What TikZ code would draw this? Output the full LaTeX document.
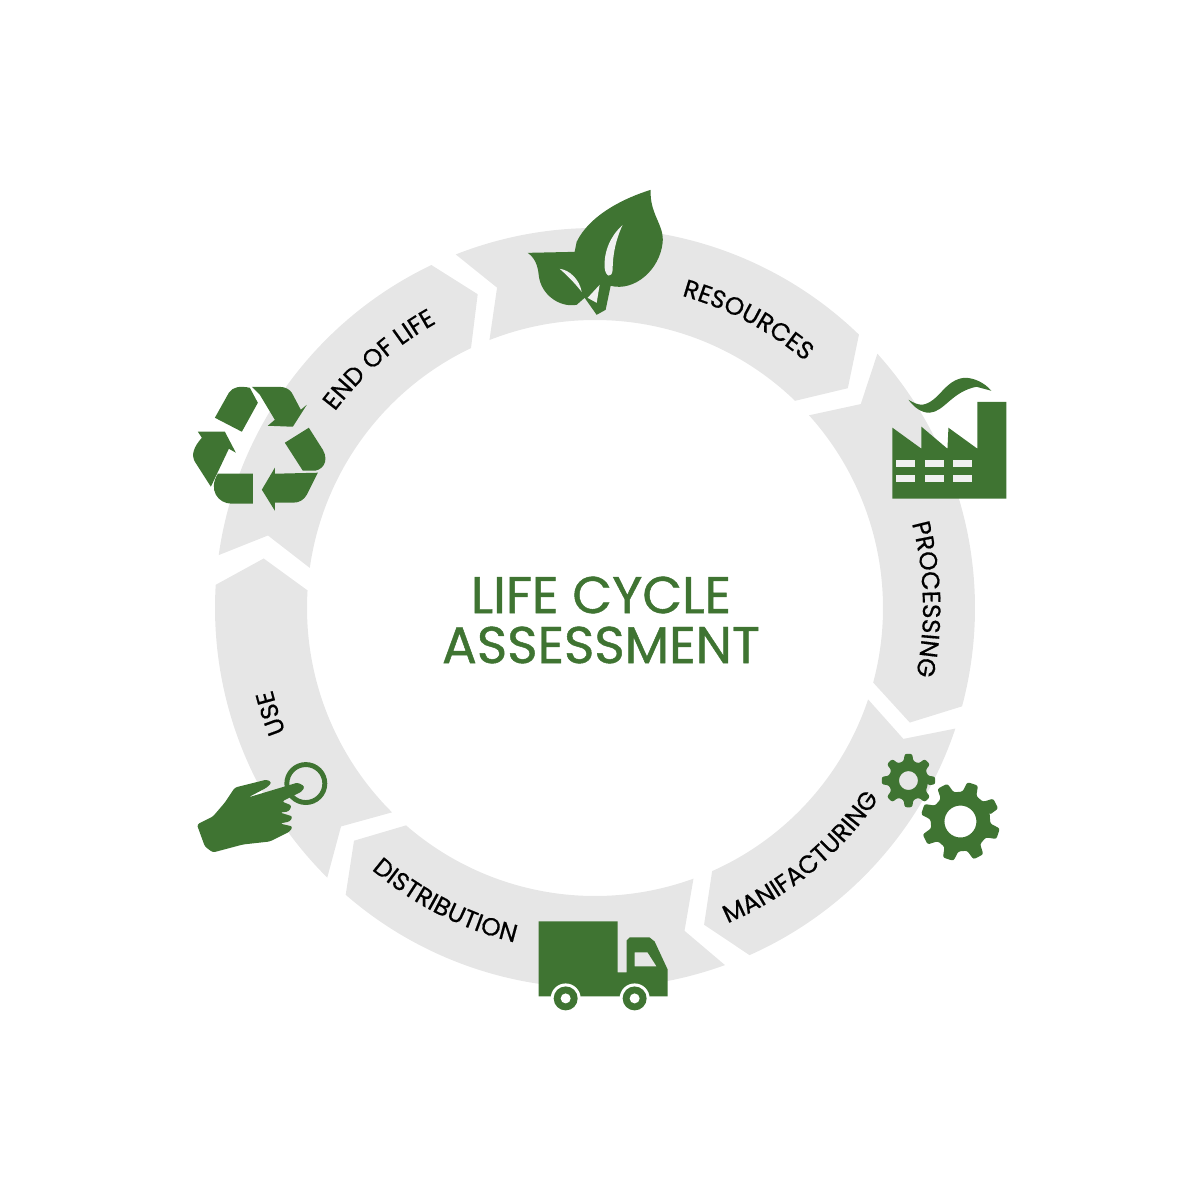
\documentclass[tikz,border=0pt]{standalone}
\usepackage{fontspec}
\usetikzlibrary{decorations.text}
\setmainfont{Poppins}
\newfontfamily\titlefont[FakeBold=0.9]{Poppins}
\newfontfamily\labelfont[FakeBold=0.5]{Poppins}
\definecolor{gr}{HTML}{3F7432}
\definecolor{rg}{HTML}{E6E6E6}
\newcommand{\lbl}{\labelfont\fontsize{7.1}{8}\selectfont}
\tikzset{titleline/.style={color=gr,font=\titlefont\fontsize{14.7}{14.7}\selectfont}}
% one arrow of the ring: start angle, end angle
\newcommand{\ringseg}[2]{\fill[color=rg] (#1:3.80) arc[start angle=#1,end angle=#2,radius=3.80] -- ({#2-5}:3.35) -- (#2:2.88) arc[start angle=#2,end angle=#1,radius=2.88] -- ({#1-4.5}:3.35) -- cycle;}
\newcommand{\ringtext}[4]{\path[decorate,decoration={text along path,text={|\lbl|#4},text align=center}] (#2:#1) arc[start angle=#2,end angle=#3,radius=#1];}
% gear: x, y, outer, root, hole, phase
\newcommand{\gear}[6]{\begin{scope}[shift={(#1,#2)},y=0.01cm]
  \fill[color=gr,even odd rule,rounded corners=0.6pt] ({#6-14}:#4) \foreach \a in {0,45,...,315}{ -- ({#6+\a-14}:#4) -- ({#6+\a-8}:#3) -- ({#6+\a+8}:#3) -- ({#6+\a+14}:#4)} -- cycle (0,0) circle [radius=#5];
\end{scope}}
\begin{document}
\begin{tikzpicture}
  \useasboundingbox (0,0) rectangle (12,12);
  \node[titleline] (lifecycle) at (6.01,6.05) {LIFE CYCLE};
  \node[titleline] (assessment) at (6.01,5.55) {ASSESSMENT};
  \begin{scope}[shift={(5.95,5.92)}]
    \foreach \s/\e in {111.5/46,42/-15,-18.5/-66,-70/-131,-134.8/-183.5,172/115.5}
      {\ringseg{\s}{\e}}
    \ringtext{3.24}{92}{32}{RESOURCES}
    \ringtext{3.28}{32}{-29}{PROCESSING}
    \ringtext{3.42}{-85}{-16}{MANIFACTURING}
    \ringtext{3.44}{-150}{-84}{DISTRIBUTION}
    \ringtext{3.33}{223}{173}{USE}
    \ringtext{3.26}{161}{101}{END OF LIFE}
  \end{scope}
  \begin{scope}[x=0.01cm,y=-0.01cm,yshift=12cm]
    % leaves
    \fill[color=gr] (651,190) .. controls (625,198) and (590,215) .. (577,242) -- (575,252)
      -- (528,253) .. controls (535,258) and (538,265) .. (539,275) .. controls (541,295) and (560,308) .. (577,305)
      -- (585,298) -- (597,315) -- (606,310) -- (611,286) .. controls (635,292) and (660,270) .. (663,243)
      .. controls (665,225) and (650,215) .. (651,190) -- cycle;
    \fill[color=rg!60!white] (623,225) .. controls (612,235) and (604,250) .. (605,268) .. controls (606,277) and (612,279) .. (613,270) .. controls (613,255) and (616,240) .. (623,225) -- cycle;
    \fill[color=rg!60!white] (560,269) .. controls (570,270) and (580,280) .. (582,292) .. controls (574,282) and (568,276) .. (560,269) -- cycle;
    \fill[color=rg!60!white] (600,285) -- (588,298) -- (597,303) -- cycle;
    % factory
    \fill[color=gr] (893,428) -- (922,449) -- (922,427) -- (948,449) -- (949,428) -- (978,449) -- (978,402) -- (1007,402) -- (1007,499) -- (893,499) -- cycle;
    \foreach \x in {897,926,954}
      \foreach \y in {460,475}
        \fill[color=rg!60!white] (\x,\y) rectangle ++(19,7);
    \fill[color=gr] (909,400) .. controls (915,408) and (922,413) .. (930,413) .. controls (945,412) and (952,392) .. (977,387) -- (992,391)
      .. controls (985,383) and (975,378) .. (965,378) .. controls (945,380) and (940,402) .. (923,405) .. controls (918,405) and (914,403) .. (909,400) -- cycle;
    % gears
    \gear{961}{822}{40}{30}{16}{27}
    \gear{909}{781}{27}{20}{9.5}{0}
    % truck
    \fill[color=gr,even odd rule] (539,922) -- (618,922) -- (618,973) -- (627,973) -- (627,941) -- (630,938) -- (650,938) -- (655,942) -- (668,970) -- (668,997) -- (539,997) -- cycle
      (635,953) -- (648,953) -- (657,967) -- (635,967) -- cycle;
    \foreach \x in {566,635}{
      \fill[color=white] (\x,999) circle [radius=15];
      \fill[color=gr] (\x,999) circle [radius=12];
      \fill[color=white] (\x,999) circle [radius=5];
    }
    % hand
    \draw[color=gr,line width=1.4pt] (306,784) circle [radius=19];
    \fill[color=gr,rounded corners=0.7pt] (197,825) -- (213,817) -- (225,803) -- (235,788) -- (267,780) -- (272,783) -- (267,788) -- (248,798)
      -- (298,783) -- (305,787) -- (302,792) -- (282,802) -- (292,806) -- (289,812) -- (280,813) -- (293,817) -- (290,822) -- (280,824) -- (293,827) -- (290,832)
      -- (270,842) -- (243,845) -- (213,853) -- (205,847) -- cycle;
    % recycling
    \fill[color=gr] (215,418) -- (229,393) .. controls (233,387) and (240,386) .. (250,388) -- (258,403) -- (242,432) -- cycle;
    \fill[color=gr] (252,387) -- (279,387) .. controls (286,387) and (290,390) .. (292,393) -- (301,410) -- (307,405) -- (293,427) -- (268,426) -- (275,420) -- (260,395) -- cycle;
    \fill[color=gr] (285,443) -- (309,428) -- (323,450) .. controls (330,462) and (322,472) .. (312,471) -- (303,471) -- cycle;
    \fill[color=gr] (318,473) -- (307,495) .. controls (304,500) and (300,503) .. (293,503) -- (275,503) -- (275,511) -- (262,490) -- (275,468) -- (275,474) -- cycle;
    \fill[color=gr] (253,474) -- (253,504) -- (232,504) .. controls (218,504) and (208,490) .. (218,474) -- cycle;
    \fill[color=gr] (211,487) -- (195,462) .. controls (191,455) and (194,447) .. (202,438) -- (198,432) -- (225,432) -- (236,453) -- (229,449) -- cycle;
  \end{scope}
\end{tikzpicture}
\end{document}
